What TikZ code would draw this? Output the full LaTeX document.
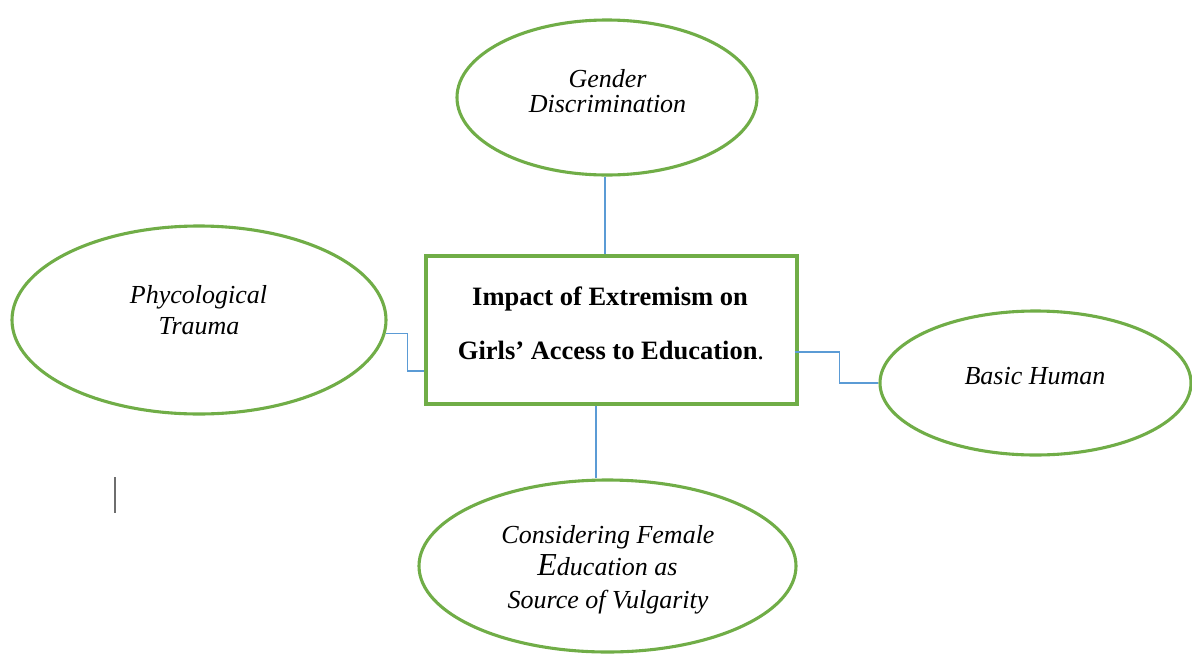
\documentclass[tikz,border=0pt]{standalone}
\usepackage{fontspec}
\setmainfont{Liberation Serif}
\usetikzlibrary{shapes.geometric}
\definecolor{leaf}{HTML}{70AD47}
\definecolor{wire}{HTML}{5B9BD5}
\definecolor{caret}{HTML}{6E6E6E}
\begin{document}
\begin{tikzpicture}[x=1pt,y=-1pt,
  bubble/.style={ellipse, draw=leaf, line width=3.1pt, inner sep=0pt},
  core/.style={rectangle, draw=leaf, line width=3.1pt, inner sep=0pt,
    minimum width=371pt, minimum height=148pt},
  link/.style={draw=wire, line width=1.1pt},
  word/.style={anchor=base, inner sep=0pt, font=\fontsize{26}{26}\selectfont\itshape},
  headline/.style={anchor=base, inner sep=0pt, font=\fontsize{26.5}{26.5}\selectfont\bfseries}]
\useasboundingbox (0,0) rectangle (1192,654);

% central box
\node[core] (box) at (611.5,330) {};
\node[headline] (h1) at (610,305) {Impact of Extremism on};
\node[headline] (h2) at (611,359) {Girls’ Access to Education{\mdseries .}};

% surrounding ellipses
\node[bubble, minimum width=300pt, minimum height=155pt] (gender) at (607,97.5) {};
\node[bubble, minimum width=374pt, minimum height=188pt] (phy) at (199,320) {};
\node[bubble, minimum width=311pt, minimum height=144pt] (basic) at (1035.5,383) {};
\node[bubble, minimum width=377pt, minimum height=172pt] (vulg) at (607.5,566) {};

% ellipse labels
\node[word] (g1) at (607.5,87) {Gender};
\node[word] (g2) at (607.5,112.5) {Discrimination};
\node[word] (p1) at (198.5,303) {Phycological};
\node[word] (p2) at (199,334) {Trauma};
\node[word] (b1) at (1035,384) {Basic Human};
\node[word] (v1) at (608,543) {Considering Female};
\node[word] (v2) at (607.5,575) {{\fontsize{32}{32}\selectfont E}ducation as};
\node[word] (v3) at (608,608) {Source of Vulgarity};

% connectors
\draw[link] (box.north -| 605,0) -- (gender.south -| 605,0);
\draw[link] (phy.-4) -- ++(22,0) |- (box.west |- 0,371);
\draw[link] (box.east |- 0,352) ++(-4,0) -- ++(45,0) |- (basic.west);
\draw[link] (box.south -| 596,0) -- (vulg.north -| 596,0);

% text caret
\draw[caret, line width=1.5pt] (115,477) -- (115,513);
\end{tikzpicture}
\end{document}
